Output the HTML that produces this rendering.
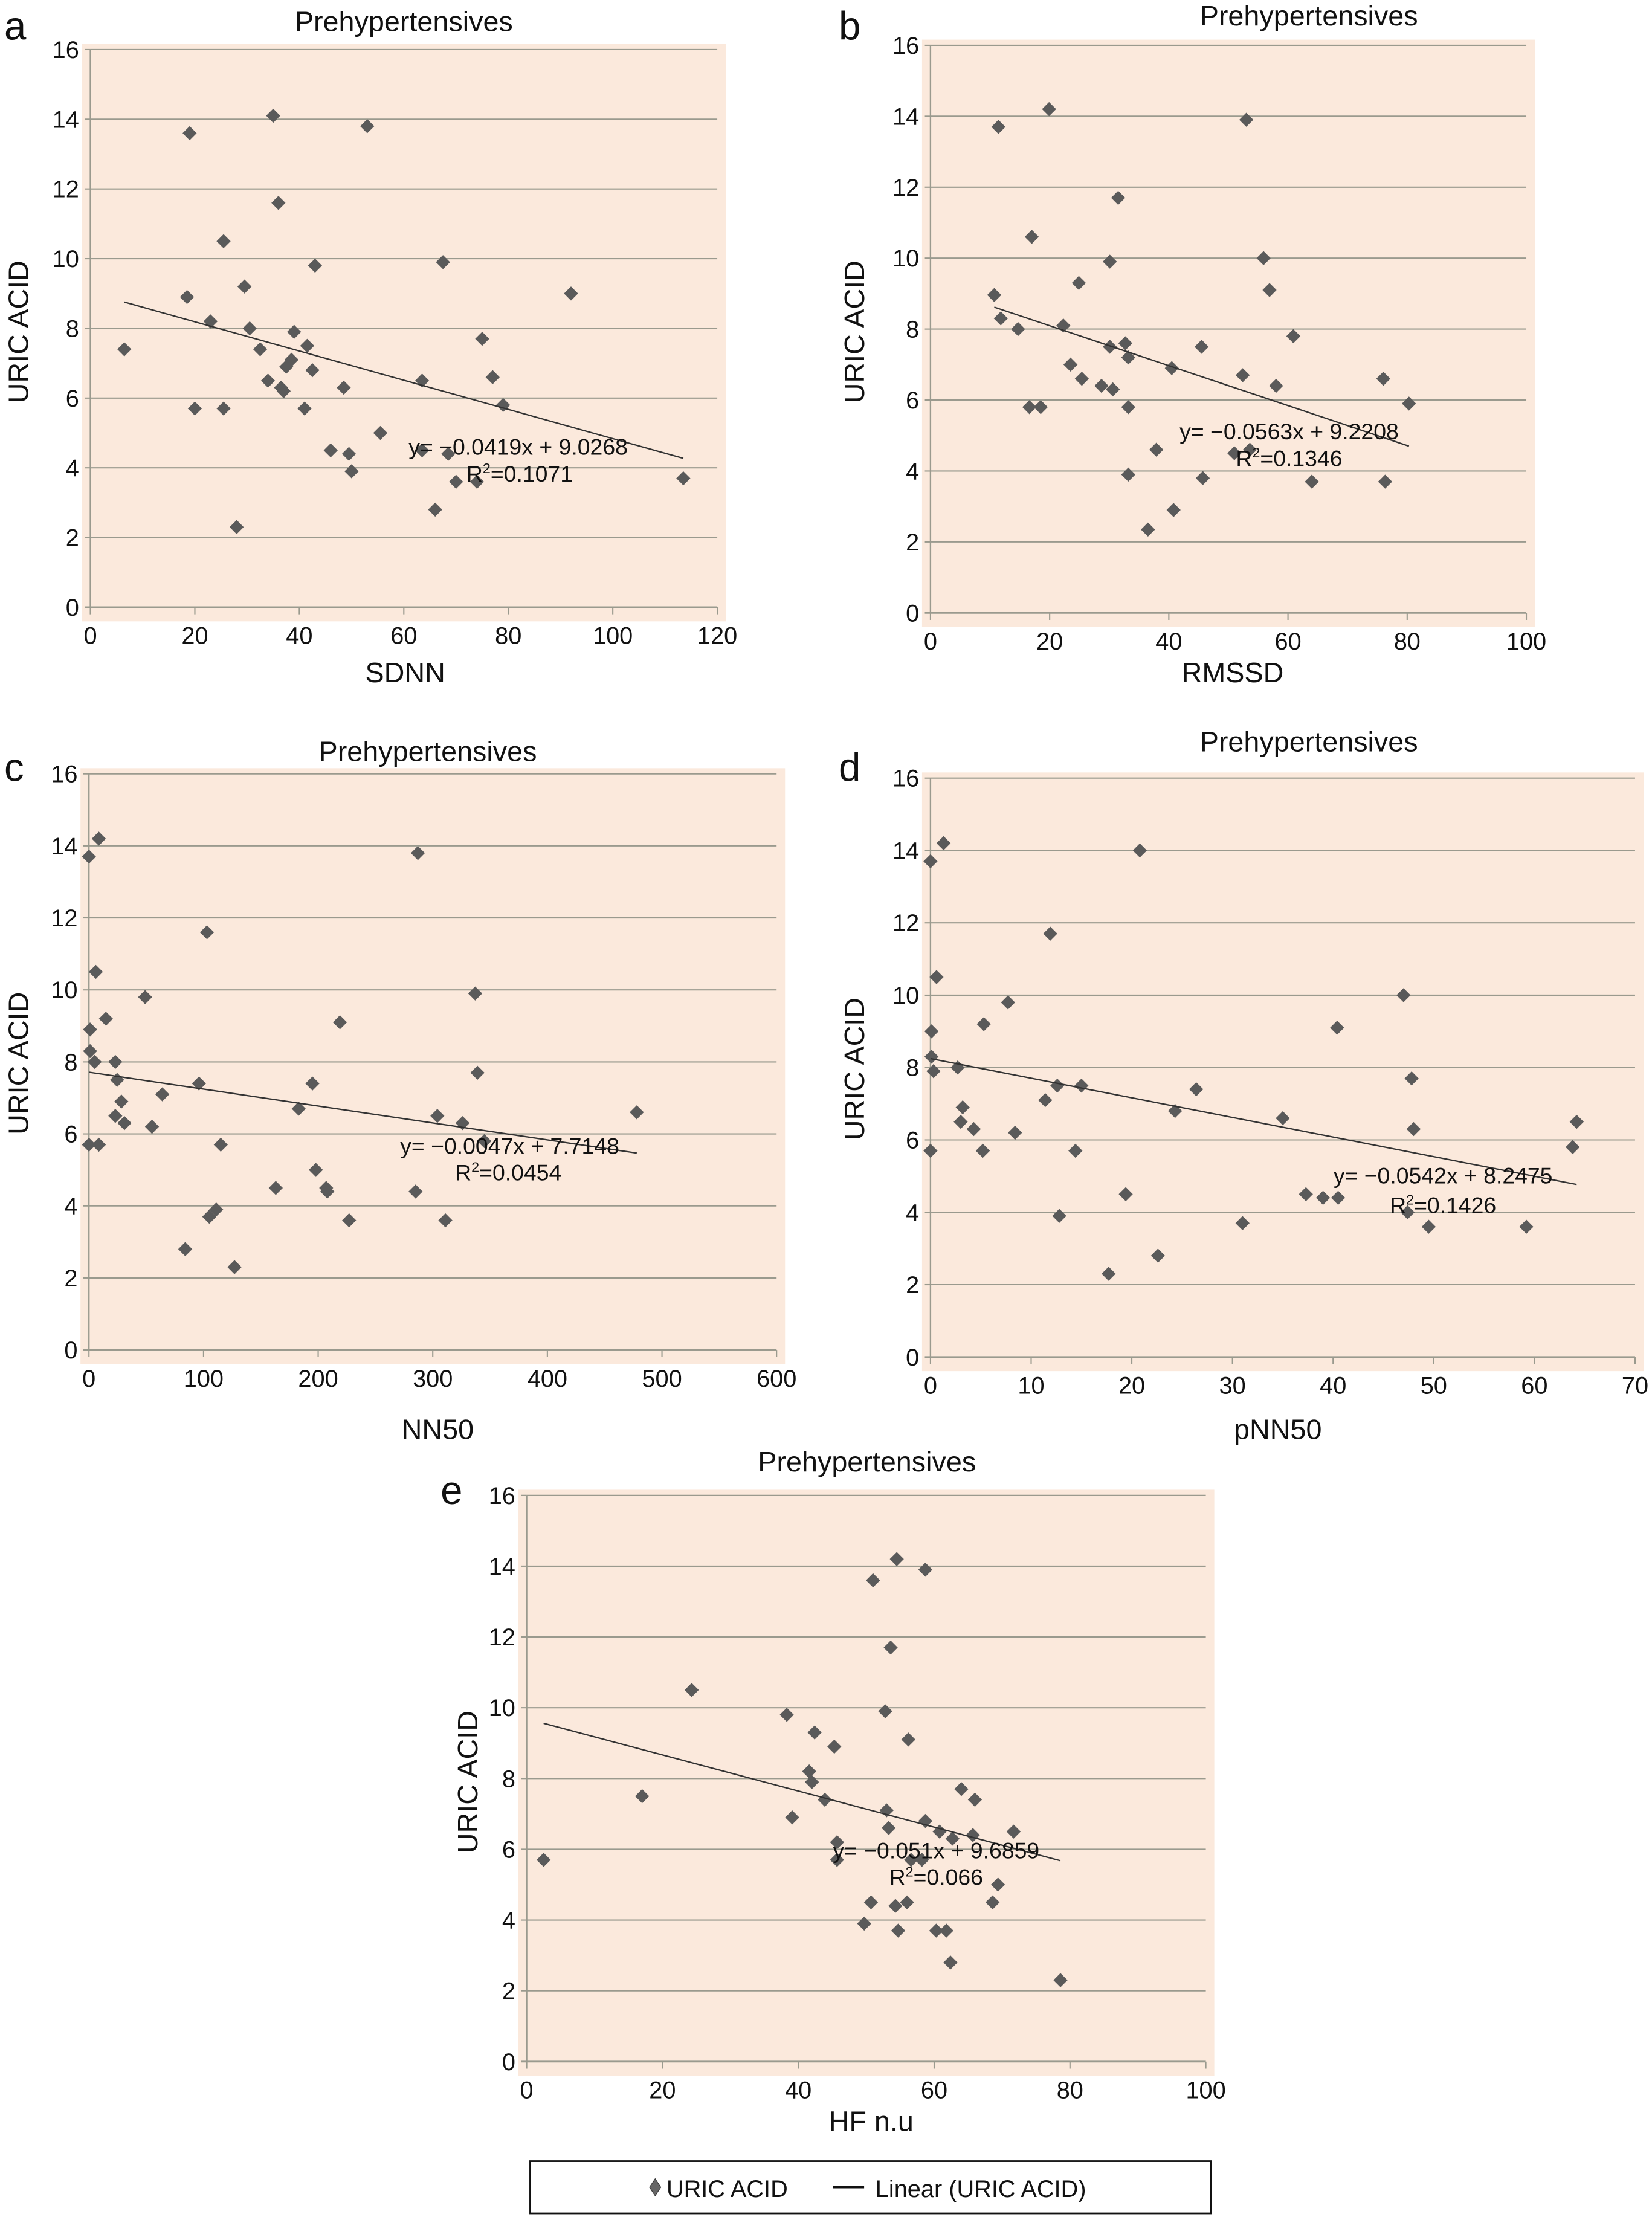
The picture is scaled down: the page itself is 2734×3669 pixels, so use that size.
<!DOCTYPE html>
<html><head><meta charset="utf-8"><style>
html,body{margin:0;padding:0;background:#fff;width:2734px;height:3669px;overflow:hidden}
svg{display:block}
text{font-family:"Liberation Sans",Arial,sans-serif;fill:#111}
</style></head><body>
<svg id="fig" width="2734" height="3669" viewBox="0 0 1170 1570" xmlns="http://www.w3.org/2000/svg"></svg>
<script>
const aX=[6.5,18.5,19,20,23,25.5,25.5,28,29.5,30.5,32.5,34,35,36,36.5,37,37.5,38.5,39,41,41.5,42.5,43,46,48.5,49.5,50,53,55.5,63.5,63.5,66,67.5,68.5,70,74,75,77,79,92,113.5];
const aY=[7.4,8.9,13.6,5.7,8.2,10.5,5.7,2.3,9.2,8,7.4,6.5,14.1,11.6,6.3,6.2,6.9,7.1,7.9,5.7,7.5,6.8,9.8,4.5,6.3,4.4,3.9,13.8,5,6.5,4.5,2.8,9.9,4.4,3.6,3.6,7.7,6.6,5.8,9,3.7];
const bX=[10.7,11.4,11.8,14.7,16.6,17,18.5,19.9,22.3,23.5,24.9,25.4,28.7,30.1,30.1,30.6,31.5,32.7,33.2,33.2,33.2,36.5,37.9,40.8,40.5,45.5,45.7,52.4,53,53.6,55.9,56.9,58,60.9,64,76,76.3,80.3,51];
const bY=[8.96,13.7,8.3,8.0,5.8,10.6,5.8,14.2,8.1,7,9.3,6.6,6.4,9.9,7.5,6.3,11.7,7.6,7.2,5.8,3.9,2.35,4.6,2.9,6.9,7.5,3.8,6.7,13.9,4.6,10,9.1,6.4,7.8,3.7,6.6,3.7,5.9,4.5];
const cX=[0,8.6,1,1,5,6,0,8.6,14.8,23,24.6,23,28.3,31,49,55,64,84,96,103,105,111,115,127,163,183,195,198,207,208,219,227,285,287,304,311,326,337,339,345,478];
const cY=[13.7,14.2,8.9,8.3,8,10.5,5.7,5.7,9.2,8,7.5,6.5,6.9,6.3,9.8,6.2,7.1,2.8,7.4,11.6,3.7,3.9,5.7,2.3,4.5,6.7,7.4,5,4.5,4.4,9.1,3.6,4.4,13.8,6.5,3.6,6.3,9.9,7.7,5.8,6.6];
const dX=[0,1.3,0.1,0.1,0.3,0.6,0,2.7,3.2,3,4.3,5.2,5.3,7.7,8.4,11.4,11.9,12.6,12.8,14.4,15,17.7,19.4,20.8,22.6,24.3,26.4,31,35,37.3,39,40.5,40.4,47,47.4,47.8,48,49.5,59.2,63.8,64.2];
const dY=[13.7,14.2,9,8.3,7.9,10.5,5.7,8,6.9,6.5,6.3,5.7,9.2,9.8,6.2,7.1,11.7,7.5,3.9,5.7,7.5,2.3,4.5,14,2.8,6.8,7.4,3.7,6.6,4.5,4.4,4.4,9.1,10,4,7.7,6.3,3.6,3.6,5.8,6.5];
const eX=[2.5,17,24.3,38.3,39.1,41.6,42,42.4,43.9,45.3,45.7,45.7,49.7,50.7,51,52.8,53,53.3,53.6,54.3,54.5,54.7,56,56.2,56.6,58.2,58.7,58.7,60.3,60.8,61.8,62.4,62.7,64,65.7,66,68.6,69.4,71.7,78.6];
const eY=[5.7,7.5,10.5,9.8,6.9,8.2,7.9,9.3,7.4,8.9,6.2,5.7,3.9,4.5,13.6,9.9,7.1,6.6,11.7,4.4,14.2,3.7,4.5,9.1,5.7,5.7,13.9,6.8,3.7,6.5,3.7,2.8,6.3,7.7,6.4,7.4,4.5,5,6.5,2.3];
const slopes=[-0.0419,-0.0563,-0.0047,-0.0542,-0.051];
const intercepts=[9.0268,9.2208,7.7148,8.2475,9.6859];
const eqLabels=["y= \u22120.0419x + 9.0268","y= \u22120.0563x + 9.2208","y= \u22120.0047x + 7.7148","y= \u22120.0542x + 8.2475","y= \u22120.051x + 9.6859"];
const r2Labels=["=0.1071","=0.1346","=0.0454","=0.1426","=0.066"];
const yTicks=[0,2,4,6,8,10,12,14,16];
const xTicksA=[0,20,40,60,80,100,120],xTicksB=[0,20,40,60,80,100],xTicksC=[0,100,200,300,400,500,600],xTicksD=[0,10,20,30,40,50,60,70],xTicksE=[0,20,40,60,80,100];

const svg=document.getElementById('fig');
const NS='http://www.w3.org/2000/svg';
function mk(tag,attrs,parent){const e=document.createElementNS(NS,tag);for(const k in attrs)e.setAttribute(k,attrs[k]);(parent||svg).appendChild(e);return e;}
function txt(s,x,y,size,anchor,parent,extra){const t=mk('text',Object.assign({x:x,y:y,'font-size':size,'text-anchor':anchor||'middle'},extra||{}),parent);t.textContent=s;return t;}

const panels=[
 {id:'a',X:aX,Y:aY,xt:xTicksA,xmax:120,L:64,R:508,T:35,B:430,xl:'SDNN',xlp:[287,483],tp:[286,22],lp:[3,28],ylp:[20,235],eq:[367,322],r2:[368,341]},
 {id:'b',X:bX,Y:bY,xt:xTicksB,xmax:100,L:659,R:1081,T:32,B:434,xl:'RMSSD',xlp:[873,483],tp:[927,18],lp:[594,28],ylp:[612,235],eq:[913,311],r2:[913,330]},
 {id:'c',X:cX,Y:cY,xt:xTicksC,xmax:600,L:63,R:550,T:548,B:956,xl:'NN50',xlp:[310,1019],tp:[303,539],lp:[3,553],ylp:[20,753],eq:[361,817],r2:[360,836]},
 {id:'d',X:dX,Y:dY,xt:xTicksD,xmax:70,L:659,R:1158,T:551,B:961,xl:'pNN50',xlp:[905,1019],tp:[927,532],lp:[594,553],ylp:[612,757],eq:[1022,838],r2:[1022,859]},
 {id:'e',X:eX,Y:eY,xt:xTicksE,xmax:100,L:373,R:854,T:1059,B:1460,xl:'HF n.u',xlp:[617,1509],tp:[614,1042],lp:[312,1065],ylp:[338,1262],eq:[663,1316],r2:[663,1335]}
];
panels.forEach((p,i)=>{
 const g=mk('g',{});
 
 
 const sx=v=>p.L+(v/p.xmax)*(p.R-p.L);
 const sy=v=>p.B-(v/16)*(p.B-p.T);
 const bg=mk('rect',{x:p.L-6,y:p.T-4,width:p.R-p.L+12,height:p.B-p.T+14,fill:'#fbe9dc'},g);
 
 
 yTicks.forEach(v=>{
  if(v>0){const gl=mk('line',{x1:p.L,x2:p.R,y1:sy(v),y2:sy(v),stroke:'#9a9a8e','stroke-width':0.9},g);
   }
  mk('line',{x1:p.L-4,x2:p.L,y1:sy(v),y2:sy(v),stroke:'#9a9a8e','stroke-width':0.9},g);
  const t=txt(String(v),p.L-8,sy(v)+6,17,'end',g);
  
 });
 const ya=mk('line',{x1:p.L,x2:p.L,y1:p.T,y2:p.B,stroke:'#9a9a8e','stroke-width':1},g);
 
 const xa=mk('line',{x1:p.L-4,x2:p.R,y1:p.B,y2:p.B,stroke:'#9a9a8e','stroke-width':1.2},g);
 
 p.xt.forEach(v=>{
  mk('line',{x1:sx(v),x2:sx(v),y1:p.B,y2:p.B+5,stroke:'#9a9a8e','stroke-width':0.9},g);
  const t=txt(String(v),sx(v),p.B+26,17,'middle',g);
  
 });
 for(let k=0;k<p.X.length;k++){
  const cx=sx(p.X[k]),cy=sy(p.Y[k]);
  const d=mk('path',{d:`M${cx} ${cy-5}L${cx+5} ${cy}L${cx} ${cy+5}L${cx-5} ${cy}Z`,fill:'#5a5a5a'},g);
  
  
 }
 const x0=Math.min(...p.X),x1=Math.max(...p.X);
 const tl=mk('line',{x1:sx(x0),y1:sy(slopes[i]*x0+intercepts[i]),x2:sx(x1),y2:sy(slopes[i]*x1+intercepts[i]),stroke:'#333','stroke-width':1},g);
 
 const eq=txt(eqLabels[i],p.eq[0],p.eq[1],16,'middle',g);
 
 const r2=mk('text',{x:p.r2[0],y:p.r2[1],'font-size':16,'text-anchor':'middle'},g);
 
 r2.innerHTML='R<tspan dy="-6" font-size="10">2</tspan><tspan dy="6">'+r2Labels[i]+'</tspan>';
 const ti=txt('Prehypertensives',p.tp[0],p.tp[1],20,'middle',g);
 
 const le=txt(p.id,p.lp[0],p.lp[1],28,'start',g);
 
 const xl=txt(p.xl,p.xlp[0],p.xlp[1],20,'middle',g);
 
 const yl=txt('URIC ACID',p.ylp[0],p.ylp[1],20,'middle',g,{transform:`rotate(-90 ${p.ylp[0]} ${p.ylp[1]})`});
 
});
const lg=mk('g',{});


mk('rect',{x:375.5,y:1530.5,width:482,height:37,fill:'#fff',stroke:'#111','stroke-width':1.2},lg);
const md=mk('path',{d:'M464 1543L468 1549L464 1555L460 1549Z',fill:'#666',stroke:'#333','stroke-width':0.5},lg);

const l1=txt('URIC ACID',472,1556,17,'start',lg);

mk('line',{x1:590,x2:612,y1:1549,y2:1549,stroke:'#111','stroke-width':1.5},lg);
const l2=txt('Linear (URIC ACID)',620,1556,17,'start',lg);

</script>
</body></html>
